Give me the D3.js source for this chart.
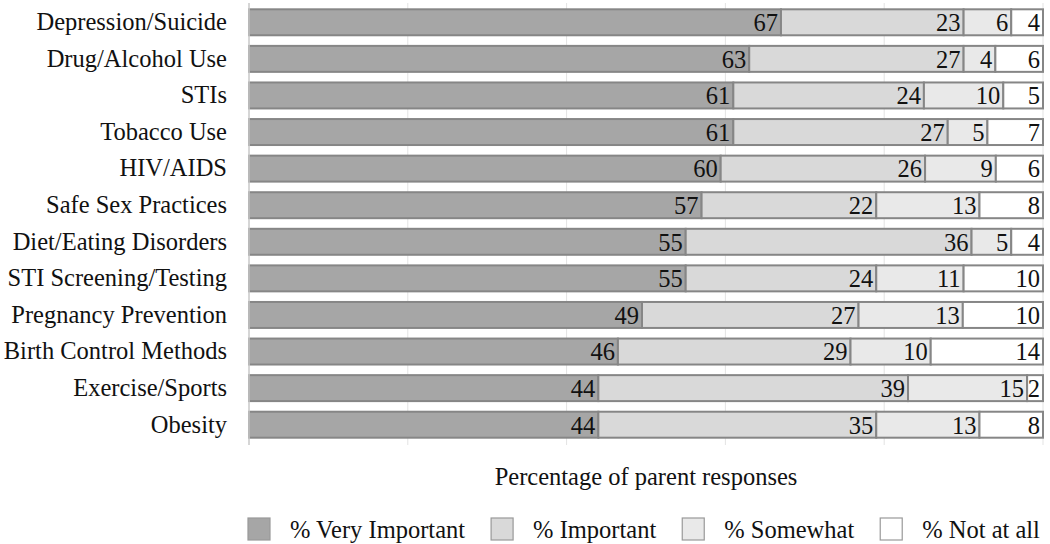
<!DOCTYPE html>
<html>
<head>
<meta charset="utf-8">
<script src="https://cdn.jsdelivr.net/npm/d3@7"></script>
<style>
  body { margin: 0; background: #fff; }
  text { font-family: "Liberation Serif", "Times New Roman", serif; fill: #111; }
</style>
</head>
<body>
<div id="chart"></div>
<script>
// --- Data ---
const topics = [
    "Depression/Suicide", "Drug/Alcohol Use", "STIs", "Tobacco Use", "HIV/AIDS",
    "Safe Sex Practices", "Diet/Eating Disorders", "STI Screening/Testing",
    "Pregnancy Prevention", "Birth Control Methods", "Exercise/Sports", "Obesity"
];
const veryImportant = [67, 63, 61, 61, 60, 57, 55, 55, 49, 46, 44, 44];
const important     = [23, 27, 24, 27, 26, 22, 36, 24, 27, 29, 39, 35];
const somewhat      = [6, 4, 10, 5, 9, 13, 5, 11, 13, 10, 15, 13];
const notAtAll      = [4, 6, 5, 7, 6, 8, 4, 10, 10, 14, 2, 8];
const seriesNames = ["% Very Important", "% Important", "% Somewhat", "% Not at all"];
const xTicks = [0, 0.2, 0.4, 0.6, 0.8, 1];

const seriesColors = ["#a6a6a6", "#d9d9d9", "#e9e9e9", "#ffffff"];
const fontSize = 24.5;

const width = 1050, height = 544;
const margin = { top: 4, right: 7, bottom: 101, left: 249 };

const svg = d3.select("#chart").append("svg")
    .attr("width", width)
    .attr("height", height);

// 100% stacked: every row fills the full width
const x = d3.scaleLinear()
    .domain([0, 1])
    .range([margin.left, width - margin.right]);

const y = d3.scaleBand()
    .domain(topics)
    .range([margin.top, height - margin.bottom])
    .paddingInner(0.29)
    .paddingOuter(0.145);

// build stacked rows
const rows = topics.map((t, i) => ({
    topic: t,
    v0: veryImportant[i], v1: important[i], v2: somewhat[i], v3: notAtAll[i]
}));
const stack = d3.stack()
    .keys(["v0", "v1", "v2", "v3"])
    .offset(d3.stackOffsetExpand)(rows);

// gridlines
svg.append("g")
    .selectAll("line")
    .data(xTicks.slice(1))
    .join("line")
    .attr("x1", d => x(d)).attr("x2", d => x(d))
    .attr("y1", margin.top - 1).attr("y2", height - margin.bottom + 2)
    .attr("stroke", "#e3e3e3")
    .attr("stroke-width", 1);

// bars
const layer = svg.append("g")
    .selectAll("g")
    .data(stack)
    .join("g")
    .attr("fill", (d, i) => seriesColors[i]);

layer.selectAll("rect")
    .data(d => d)
    .join("rect")
    .attr("x", d => x(d[0]))
    .attr("y", d => y(d.data.topic))
    .attr("width", d => x(d[1]) - x(d[0]))
    .attr("height", y.bandwidth())
    .attr("stroke", "#868686")
    .attr("stroke-width", 2);

// value labels, right aligned inside each segment
layer.selectAll("text")
    .data(d => d.map(p => ({ p, key: d.key })))
    .join("text")
    .attr("x", d => x(d.p[1]) - 3)
    .attr("y", d => y(d.p.data.topic) + y.bandwidth() / 2)
    .attr("dy", "0.36em")
    .attr("text-anchor", "end")
    .attr("font-size", fontSize)
    .text(d => d.p.data[d.key]);

// y axis
const yAxis = svg.append("g")
    .attr("transform", `translate(${margin.left},0)`)
    .call(d3.axisLeft(y).tickSize(0).tickPadding(22));
yAxis.select(".domain")
    .attr("stroke", "#c8c8c8")
    .attr("stroke-width", 1.5)
    .attr("d", `M0,${margin.top - 1}V${height - margin.bottom + 2}`);
yAxis.selectAll("text")
    .attr("font-size", fontSize)
    .attr("font-family", "Liberation Serif, serif")
    .attr("fill", "#111");

// x axis title
svg.append("text")
    .attr("x", (x(0) + x(1)) / 2)
    .attr("y", 485)
    .attr("text-anchor", "middle")
    .attr("font-size", fontSize)
    .text("Percentage of parent responses");

// legend
const legend = svg.append("g").attr("transform", "translate(248,518)");
let lx = 0;
seriesNames.forEach((name, i) => {
    const g = legend.append("g").attr("transform", `translate(${lx},0)`);
    g.append("rect")
        .attr("width", 22).attr("height", 22)
        .attr("fill", seriesColors[i])
        .attr("stroke", "#999")
        .attr("stroke-width", 1.2);
    const t = g.append("text")
        .attr("x", 42).attr("y", 11)
        .attr("dy", "0.36em")
        .attr("font-size", fontSize)
        .text(name);
    lx += 42 + t.node().getComputedTextLength() + 26;
});
</script>
</body>
</html>
